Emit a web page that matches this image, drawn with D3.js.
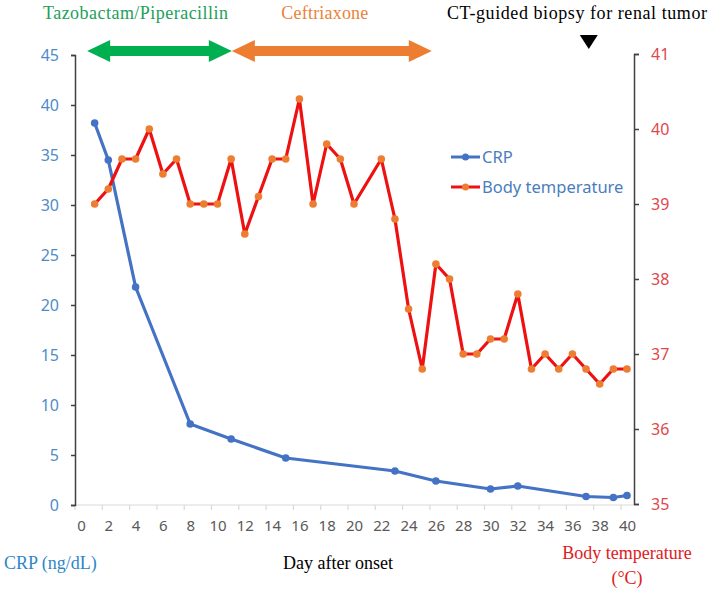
<!DOCTYPE html>
<html>
<head>
<meta charset="utf-8">
<script src="https://cdn.jsdelivr.net/npm/d3@7"></script>
<style>
  body { margin: 0; background: #fff; }
  svg { display: block; }
</style>
</head>
<body>
<script>
// CRP (left axis)
var crpDays = [1, 2, 4, 8, 11, 15, 23, 26, 30, 32, 37, 39, 40];
var crpVals = [38.2, 34.5, 21.8, 8.1, 6.6, 4.7, 3.4, 2.4, 1.6, 1.9, 0.85, 0.75, 0.95];

// body temperature (right axis), no reading on day 21
var tempDays = [1, 2, 3, 4, 5, 6, 7, 8, 9, 10, 11, 12, 13, 14, 15, 16, 17, 18, 19, 20,
    22, 23, 24, 25, 26, 27, 28, 29, 30, 31, 32, 33, 34, 35, 36, 37, 38, 39, 40];
var tempVals = [39.0, 39.2, 39.6, 39.6, 40.0, 39.4, 39.6, 39.0, 39.0, 39.0, 39.6, 38.6, 39.1, 39.6, 39.6, 40.4, 39.0, 39.8, 39.6, 39.0,
    39.6, 38.8, 37.6, 36.8, 38.2, 38.0, 37.0, 37.0, 37.2, 37.2, 37.8, 36.8, 37.0, 36.8, 37.0, 36.8, 36.6, 36.8, 36.8];

// antibiotic periods (days)
var drugNames = ["Tazobactam/Piperacillin", "Ceftriaxone"];
var drugStart = [0.45, 11.05];
var drugEnd = [11.05, 25.7];
var biopsyDay = 37.2;

var xTicks = d3.range(0, 41, 2);
var leftTicks = d3.range(0, 46, 5);
var rightTicks = [35, 36, 37, 38, 39, 40, 41];

var W = 709, H = 592;
var svg = d3.select('body').append('svg').attr('width', W).attr('height', H);

var x = d3.scaleLinear().domain([0, 40]).range([81, 627]);
var yL = d3.scaleLinear().domain([0, 45]).range([505, 55]);
var yR = d3.scaleLinear().domain([35, 41]).range([504, 54]);

var sans = "'Noto Sans', 'DejaVu Sans', sans-serif";
var serif = "'Liberation Serif', 'DejaVu Serif', serif";

// X axis: light grey line, ticks sit a little left of the labels
svg.append('line')
    .attr('x1', 75).attr('x2', 634)
    .attr('y1', 505).attr('y2', 505)
    .attr('stroke', '#d9d9d9').attr('stroke-width', 1.2);
svg.append('g').selectAll('line')
    .data(xTicks)
    .enter().append('line')
    .attr('x1', function (d) { return x(d - 0.44); })
    .attr('x2', function (d) { return x(d - 0.44); })
    .attr('y1', 505).attr('y2', 510)
    .attr('stroke', '#d9d9d9').attr('stroke-width', 1.2);

var xAxis = d3.axisBottom(x).tickValues(xTicks).tickSize(0).tickPadding(15);
var gx = svg.append('g')
    .attr('transform', 'translate(0,505)')
    .call(xAxis);
gx.select('.domain').remove();
gx.selectAll('text')
    .attr('fill', '#595959')
    .style('font-family', sans)
    .style('font-size', '15px');

// left axis
var gl = svg.append('g')
    .attr('transform', 'translate(75,0)')
    .call(d3.axisLeft(yL).tickValues(leftTicks).tickSize(4).tickPadding(12));
gl.select('.domain').attr('stroke', '#404040').attr('stroke-width', 1.5);
gl.selectAll('.tick line').attr('stroke', '#404040').attr('stroke-width', 1.5);
gl.selectAll('text')
    .attr('fill', '#4f8bc9')
    .style('font-family', sans)
    .style('font-size', '16px');

// right axis
var gr = svg.append('g')
    .attr('transform', 'translate(634,0)')
    .call(d3.axisRight(yR).tickValues(rightTicks).tickFormat(d3.format('d')).tickSize(5).tickPadding(12));
gr.select('.domain').attr('stroke', '#404040').attr('stroke-width', 1.5);
gr.selectAll('.tick line').attr('stroke', '#404040').attr('stroke-width', 1.5);
gr.selectAll('text')
    .attr('fill', '#e0474c')
    .style('font-family', sans)
    .style('font-size', '16px');

// CRP series
var crpLine = d3.line()
    .x(function (d, i) { return x(crpDays[i]); })
    .y(function (d) { return yL(d); });
svg.append('path')
    .datum(crpVals)
    .attr('d', crpLine)
    .attr('fill', 'none')
    .attr('stroke', '#4472c4')
    .attr('stroke-width', 3.2)
    .attr('stroke-linejoin', 'round');
svg.append('g').selectAll('circle')
    .data(crpVals)
    .enter().append('circle')
    .attr('cx', function (d, i) { return x(crpDays[i]); })
    .attr('cy', function (d) { return yL(d); })
    .attr('r', 3.8)
    .attr('fill', '#4472c4');

// temperature series
var tempLine = d3.line()
    .x(function (d, i) { return x(tempDays[i]); })
    .y(function (d) { return yR(d); });
svg.append('path')
    .datum(tempVals)
    .attr('d', tempLine)
    .attr('fill', 'none')
    .attr('stroke', '#ee1111')
    .attr('stroke-width', 3.2)
    .attr('stroke-linejoin', 'round');
svg.append('g').selectAll('circle')
    .data(tempVals)
    .enter().append('circle')
    .attr('cx', function (d, i) { return x(tempDays[i]); })
    .attr('cy', function (d) { return yR(d); })
    .attr('r', 3.8)
    .attr('fill', '#ed7d31');

// legend
var legendNames = ["CRP", "Body temperature"];
var legendLine = ['#4472c4', '#ee1111'];
var legendDot = ['#4472c4', '#ed7d31'];
var lg = svg.append('g').selectAll('g')
    .data(legendNames)
    .enter().append('g')
    .attr('transform', function (d, i) { return 'translate(451,' + (157 + i * 30) + ')'; });
lg.append('line')
    .attr('x1', 0).attr('x2', 29)
    .attr('stroke', function (d, i) { return legendLine[i]; })
    .attr('stroke-width', 3);
lg.append('circle')
    .attr('cx', 14.5).attr('r', 3.5)
    .attr('fill', function (d, i) { return legendDot[i]; });
lg.append('text')
    .attr('x', 31).attr('dy', '0.35em')
    .attr('fill', '#4a7ebb')
    .style('font-family', sans)
    .style('font-size', '16.5px')
    .text(function (d) { return d; });

// antibiotic arrows
var drugColors = ['#00b050', '#ed7d31'];
function arrowPath(a, b, cy) {
    var hl = 23, hh = 11, bh = 5;
    return 'M' + a + ',' + cy +
        'L' + (a + hl) + ',' + (cy - hh) +
        'L' + (a + hl) + ',' + (cy - bh) +
        'L' + (b - hl) + ',' + (cy - bh) +
        'L' + (b - hl) + ',' + (cy - hh) +
        'L' + b + ',' + cy +
        'L' + (b - hl) + ',' + (cy + hh) +
        'L' + (b - hl) + ',' + (cy + bh) +
        'L' + (a + hl) + ',' + (cy + bh) +
        'L' + (a + hl) + ',' + (cy + hh) + 'Z';
}
svg.append('g').selectAll('path')
    .data(drugNames)
    .enter().append('path')
    .attr('d', function (d, i) { return arrowPath(x(drugStart[i]), x(drugEnd[i]), 51); })
    .attr('fill', function (d, i) { return drugColors[i]; });

// drug labels (green one sits left of its arrow centre)
var labelShift = [-24, -7];
var labelWidth = [185, 87];
svg.append('g').selectAll('text')
    .data(drugNames)
    .enter().append('text')
    .attr('x', function (d, i) { return (x(drugStart[i]) + x(drugEnd[i])) / 2 + labelShift[i]; })
    .attr('y', 19)
    .attr('text-anchor', 'middle')
    .attr('textLength', function (d, i) { return labelWidth[i]; })
    .attr('fill', function (d, i) { return i === 0 ? '#23a05a' : '#e8833a'; })
    .style('font-family', serif)
    .style('font-size', '18px')
    .text(function (d) { return d; });

// biopsy marker
var bx = x(biopsyDay);
svg.append('path')
    .attr('d', 'M' + (bx - 9) + ',35L' + (bx + 9) + ',35L' + bx + ',49Z')
    .attr('fill', '#000');
svg.append('text')
    .attr('x', 577).attr('y', 19)
    .attr('text-anchor', 'middle')
    .attr('textLength', 260)
    .attr('fill', '#000')
    .style('font-family', serif)
    .style('font-size', '18px')
    .text('CT-guided biopsy for renal tumor');

// axis titles
svg.append('text')
    .attr('x', 4).attr('y', 569)
    .attr('fill', '#2e86c8')
    .style('font-family', serif)
    .style('font-size', '18px')
    .text('CRP (ng/dL)');
svg.append('text')
    .attr('x', 338).attr('y', 569)
    .attr('text-anchor', 'middle')
    .attr('fill', '#000')
    .style('font-family', serif)
    .style('font-size', '18px')
    .text('Day after onset');
svg.append('text')
    .attr('x', 627).attr('y', 559)
    .attr('text-anchor', 'middle')
    .attr('fill', '#e02020')
    .style('font-family', serif)
    .style('font-size', '18px')
    .text('Body temperature');
svg.append('text')
    .attr('x', 627).attr('y', 584)
    .attr('text-anchor', 'middle')
    .attr('fill', '#e02020')
    .style('font-family', serif)
    .style('font-size', '18px')
    .text('(\u00b0C)');
</script>
</body>
</html>
